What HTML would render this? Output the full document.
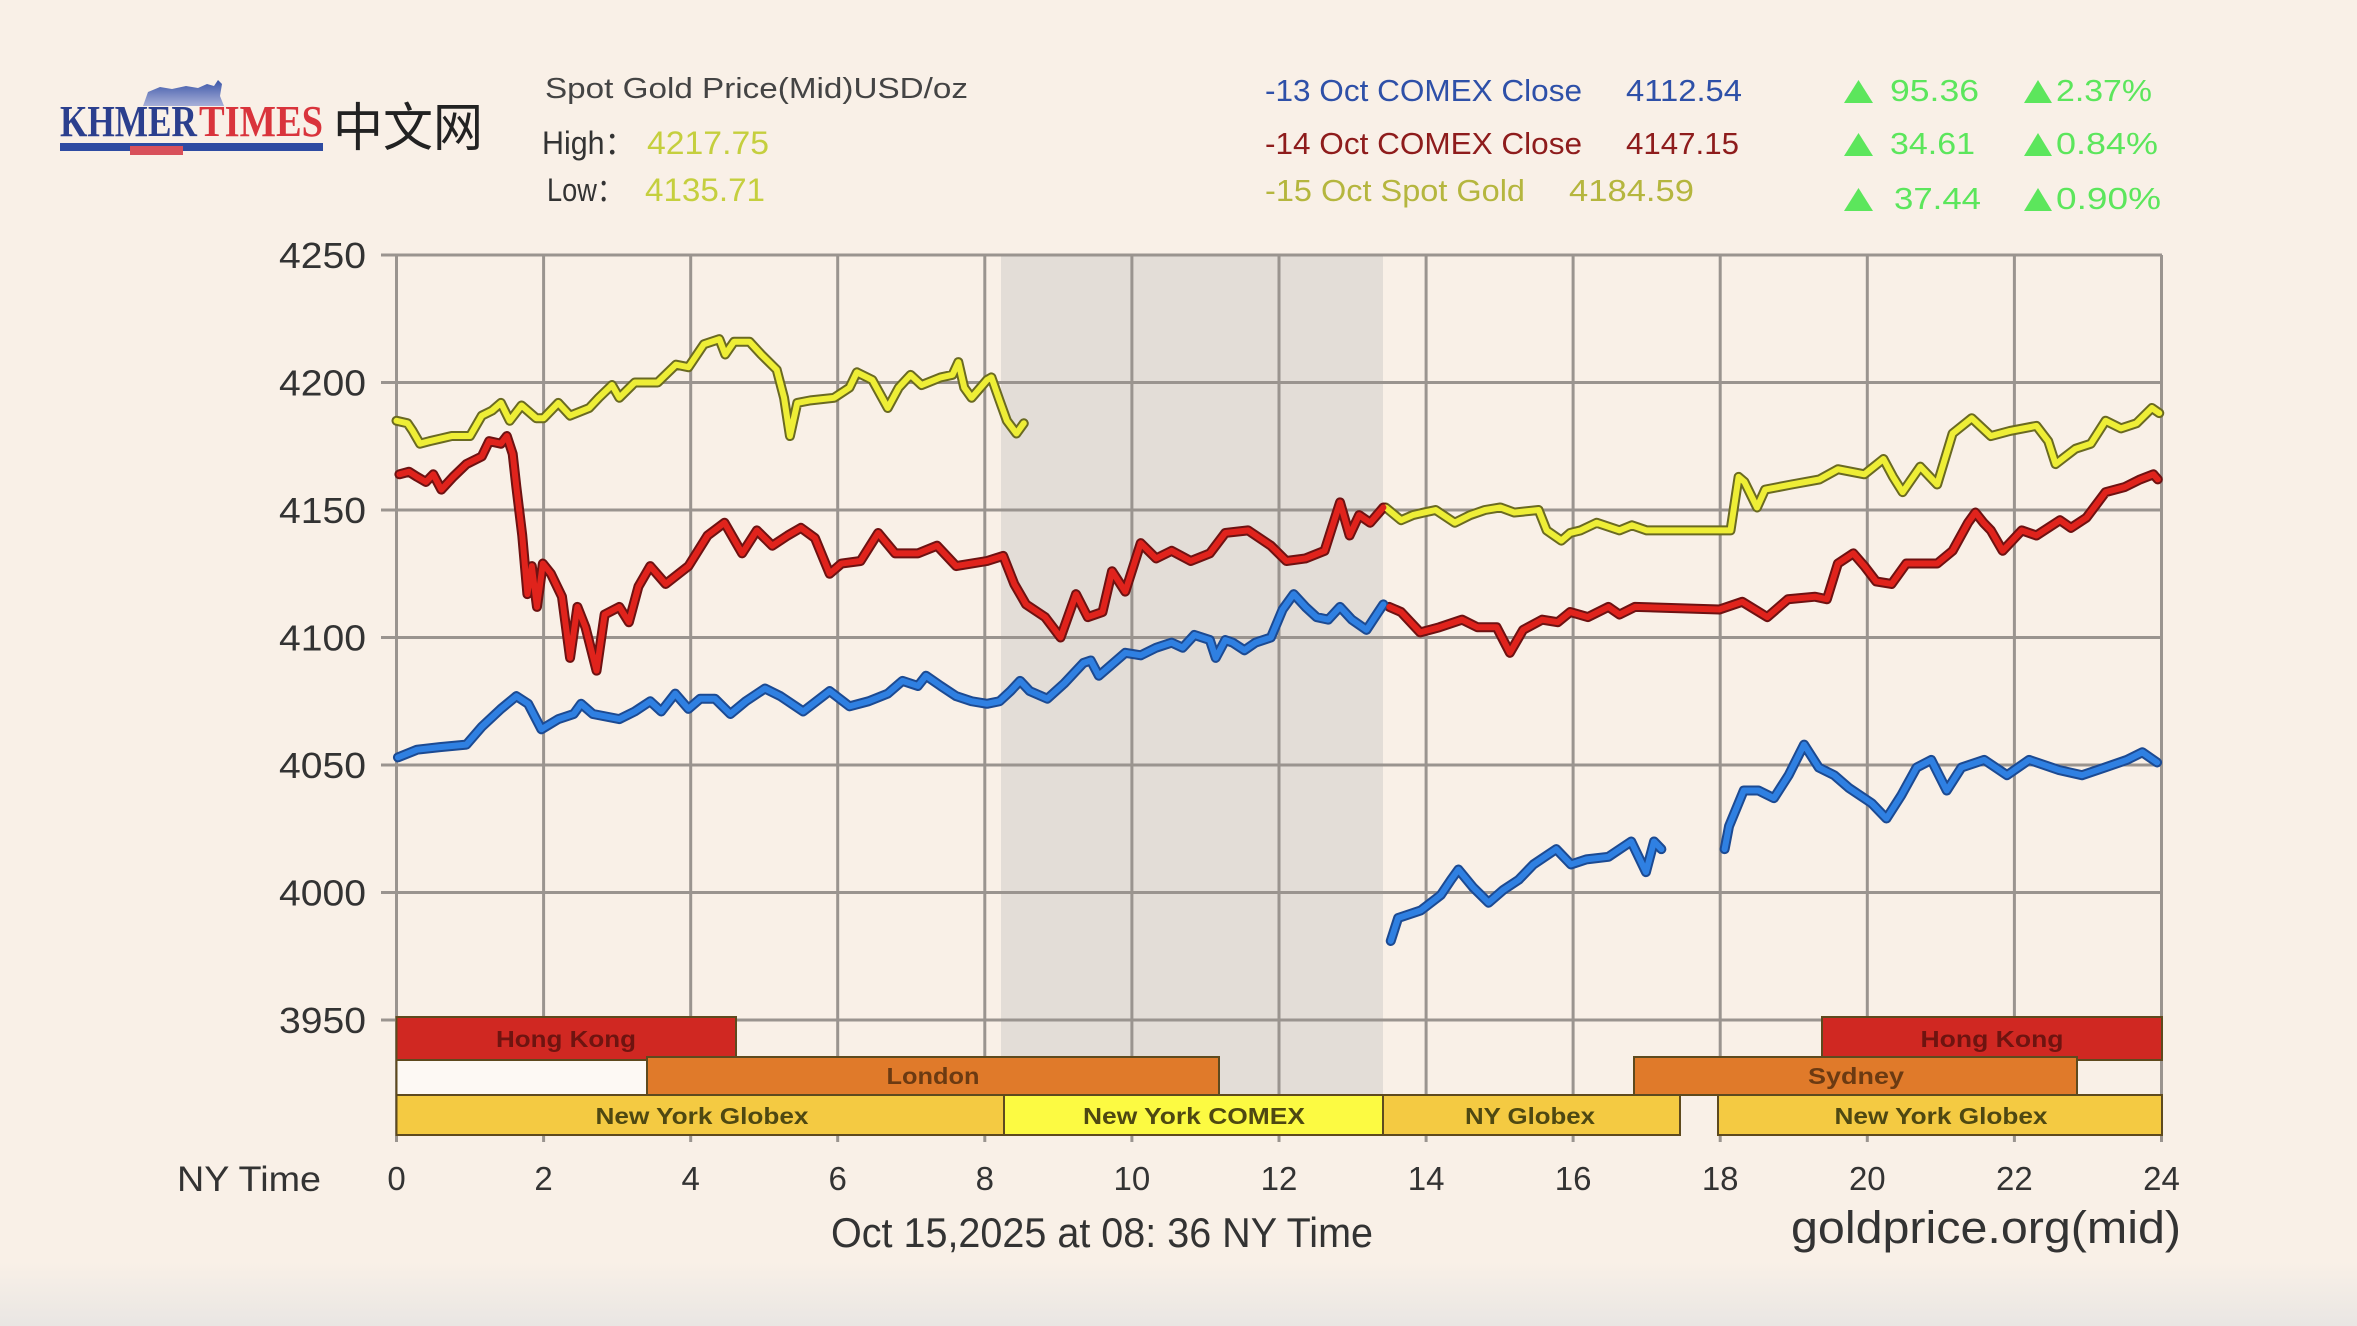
<!DOCTYPE html>
<html><head><meta charset="utf-8"><style>
html,body{margin:0;padding:0;background:#f9f0e7;}
svg{display:block;}
text{font-family:"Liberation Sans","Noto Sans CJK SC",sans-serif;}
</style></head><body>
<svg width="2357" height="1326" viewBox="0 0 2357 1326" xmlns="http://www.w3.org/2000/svg">
<defs>
<linearGradient id="bg" x1="0" y1="0" x2="0" y2="1">
<stop offset="0" stop-color="#f9f0e7"/><stop offset="1" stop-color="#e9e6e3"/>
</linearGradient>
<linearGradient id="mt" x1="0" y1="0" x2="0" y2="1">
<stop offset="0" stop-color="#3a55a8"/><stop offset="1" stop-color="#a8b0d8"/>
</linearGradient>
</defs>
<rect x="0" y="0" width="2357" height="1326" fill="#f9f0e7"/>
<rect x="0" y="1262" width="2357" height="64" fill="url(#bg)"/>

<!-- Logo -->
<path d="M143,106 L148,92 L160,87 L172,89 L186,86 L198,88 L207,84 L214,86 L218,80 L222,84 L220,96 L224,106 Z" fill="url(#mt)"/>
<text x="60" y="136" style="font-family:'Liberation Serif',serif;font-weight:bold;font-size:44px" fill="#2b3f8e" textLength="137" lengthAdjust="spacingAndGlyphs">KHMER</text>
<text x="199" y="136" style="font-family:'Liberation Serif',serif;font-weight:bold;font-size:44px" fill="#d9343c" textLength="124" lengthAdjust="spacingAndGlyphs">TIMES</text>
<rect x="60" y="143" width="263" height="8" fill="#2e4ba2"/>
<rect x="130" y="146" width="53" height="9" fill="#d8505a"/>
<text x="333" y="146" style="font-family:'Noto Sans CJK SC',sans-serif;font-size:52px" fill="#222" textLength="150" lengthAdjust="spacingAndGlyphs">中文网</text>

<!-- Header left -->
<text x="545" y="98" font-size="29" fill="#444" textLength="423" lengthAdjust="spacingAndGlyphs">Spot Gold Price(Mid)USD/oz</text>
<text x="542" y="154" font-size="32" fill="#333" textLength="93" lengthAdjust="spacingAndGlyphs">High：</text>
<text x="647" y="154" font-size="32" fill="#c5cf3e" textLength="122" lengthAdjust="spacingAndGlyphs">4217.75</text>
<text x="547" y="201" font-size="32" fill="#333" textLength="77" lengthAdjust="spacingAndGlyphs">Low：</text>
<text x="645" y="201" font-size="32" fill="#c5cf3e" textLength="120" lengthAdjust="spacingAndGlyphs">4135.71</text>

<!-- Header right -->
<text x="1265" y="101" font-size="31" fill="#2e50a8" textLength="317" lengthAdjust="spacingAndGlyphs">-13 Oct COMEX Close</text>
<text x="1626" y="101" font-size="31" fill="#2e50a8" textLength="116" lengthAdjust="spacingAndGlyphs">4112.54</text>
<text x="1265" y="154" font-size="31" fill="#8e1c1c" textLength="317" lengthAdjust="spacingAndGlyphs">-14 Oct COMEX Close</text>
<text x="1626" y="154" font-size="31" fill="#8e1c1c" textLength="113" lengthAdjust="spacingAndGlyphs">4147.15</text>
<text x="1265" y="201" font-size="31" fill="#b5b63e" textLength="260" lengthAdjust="spacingAndGlyphs">-15 Oct Spot Gold</text>
<text x="1569" y="201" font-size="31" fill="#b5b63e" textLength="125" lengthAdjust="spacingAndGlyphs">4184.59</text>

<g fill="#5ce65c">
<polygon points="1844,103 1873,103 1858.5,80"/>
<text x="1890" y="101" font-size="31" textLength="89" lengthAdjust="spacingAndGlyphs">95.36</text>
<polygon points="2024,103 2052,103 2038,80"/>
<text x="2056" y="101" font-size="31" textLength="96" lengthAdjust="spacingAndGlyphs">2.37%</text>
<polygon points="1844,156 1873,156 1858.5,133"/>
<text x="1890" y="154" font-size="31" textLength="85" lengthAdjust="spacingAndGlyphs">34.61</text>
<polygon points="2024,156 2052,156 2038,133"/>
<text x="2056" y="154" font-size="31" textLength="102" lengthAdjust="spacingAndGlyphs">0.84%</text>
<polygon points="1844,211 1873,211 1858.5,188"/>
<text x="1894" y="209" font-size="31" textLength="87" lengthAdjust="spacingAndGlyphs">37.44</text>
<polygon points="2024,211 2052,211 2038,188"/>
<text x="2056" y="209" font-size="31" textLength="105" lengthAdjust="spacingAndGlyphs">0.90%</text>
</g>

<!-- shaded region -->
<rect x="1001" y="255" width="382" height="840" fill="#e3ddd7"/>

<!-- gridlines -->
<g stroke="#9a948f" stroke-width="3" fill="none">
<line x1="381" y1="255" x2="2162" y2="255"/>
<line x1="381" y1="382.5" x2="2162" y2="382.5"/>
<line x1="381" y1="510" x2="2162" y2="510"/>
<line x1="381" y1="637.5" x2="2162" y2="637.5"/>
<line x1="381" y1="765" x2="2162" y2="765"/>
<line x1="381" y1="892.5" x2="2162" y2="892.5"/>
<line x1="381" y1="1020" x2="2162" y2="1020"/>
<line x1="396.5" y1="255" x2="396.5" y2="1142"/>
<line x1="543.6" y1="255" x2="543.6" y2="1142"/>
<line x1="690.7" y1="255" x2="690.7" y2="1142"/>
<line x1="837.7" y1="255" x2="837.7" y2="1142"/>
<line x1="984.8" y1="255" x2="984.8" y2="1142"/>
<line x1="1131.9" y1="255" x2="1131.9" y2="1142"/>
<line x1="1279" y1="255" x2="1279" y2="1142"/>
<line x1="1426.1" y1="255" x2="1426.1" y2="1142"/>
<line x1="1573.1" y1="255" x2="1573.1" y2="1142"/>
<line x1="1720.2" y1="255" x2="1720.2" y2="1142"/>
<line x1="1867.3" y1="255" x2="1867.3" y2="1142"/>
<line x1="2014.4" y1="255" x2="2014.4" y2="1142"/>
<line x1="2161.5" y1="255" x2="2161.5" y2="1142"/>
</g>

<!-- session bars -->
<g stroke="#5e4a1e" stroke-width="2">
<rect x="396.5" y="1060" width="250.5" height="35" fill="#fdf9f4"/>
<rect x="396.5" y="1017" width="339.5" height="43" fill="#d02822"/>
<rect x="1822" y="1017" width="340" height="43" fill="#d02822"/>
<rect x="647" y="1057" width="572" height="38" fill="#e07a2a"/>
<rect x="1634" y="1057" width="443" height="38" fill="#e07a2a"/>
<rect x="396.5" y="1095" width="607.5" height="40" fill="#f4ca42"/>
<rect x="1004" y="1095" width="379" height="40" fill="#fcfa42"/>
<rect x="1383" y="1095" width="297" height="40" fill="#f4ca42"/>
<rect x="1718" y="1095" width="444" height="40" fill="#f4ca42"/>
</g>
<g font-size="23" font-weight="bold" text-anchor="middle">
<text x="566" y="1047" fill="#6e1410" textLength="140" lengthAdjust="spacingAndGlyphs">Hong Kong</text>
<text x="1992" y="1047" fill="#6e1410" textLength="143" lengthAdjust="spacingAndGlyphs">Hong Kong</text>
<text x="933" y="1084" fill="#6b3a12" textLength="93" lengthAdjust="spacingAndGlyphs">London</text>
<text x="1856" y="1084" fill="#6b3a12" textLength="96" lengthAdjust="spacingAndGlyphs">Sydney</text>
<text x="702" y="1124" fill="#4e4812" textLength="213" lengthAdjust="spacingAndGlyphs">New York Globex</text>
<text x="1194" y="1124" fill="#4e4812" textLength="222" lengthAdjust="spacingAndGlyphs">New York COMEX</text>
<text x="1530" y="1124" fill="#4e4812" textLength="130" lengthAdjust="spacingAndGlyphs">NY Globex</text>
<text x="1941" y="1124" fill="#4e4812" textLength="213" lengthAdjust="spacingAndGlyphs">New York Globex</text>
</g>

<!-- Y labels -->
<g font-size="36" fill="#333" text-anchor="end">
<text x="366" y="268" textLength="87" lengthAdjust="spacingAndGlyphs">4250</text>
<text x="366" y="395.5" textLength="87" lengthAdjust="spacingAndGlyphs">4200</text>
<text x="366" y="523" textLength="87" lengthAdjust="spacingAndGlyphs">4150</text>
<text x="366" y="650.5" textLength="87" lengthAdjust="spacingAndGlyphs">4100</text>
<text x="366" y="778" textLength="87" lengthAdjust="spacingAndGlyphs">4050</text>
<text x="366" y="905.5" textLength="87" lengthAdjust="spacingAndGlyphs">4000</text>
<text x="366" y="1033" textLength="87" lengthAdjust="spacingAndGlyphs">3950</text>
</g>

<!-- X labels -->
<g font-size="33" fill="#333" text-anchor="middle">
<text x="396.5" y="1190">0</text>
<text x="543.6" y="1190">2</text>
<text x="690.7" y="1190">4</text>
<text x="837.7" y="1190">6</text>
<text x="984.8" y="1190">8</text>
<text x="1131.9" y="1190">10</text>
<text x="1279" y="1190">12</text>
<text x="1426.1" y="1190">14</text>
<text x="1573.1" y="1190">16</text>
<text x="1720.2" y="1190">18</text>
<text x="1867.3" y="1190">20</text>
<text x="2014.4" y="1190">22</text>
<text x="2161.5" y="1190">24</text>
</g>
<text x="177" y="1191" font-size="35" fill="#333" textLength="144" lengthAdjust="spacingAndGlyphs">NY Time</text>
<text x="831" y="1247" font-size="42" fill="#333" textLength="542" lengthAdjust="spacingAndGlyphs">Oct 15,2025 at 08: 36 NY Time</text>
<text x="1791" y="1243" font-size="45" fill="#333" textLength="390" lengthAdjust="spacingAndGlyphs">goldprice.org(mid)</text>

<!-- Series -->
<g transform="translate(396.5,255) scale(73.54,-2.55) translate(0,-4250)" fill="none" stroke-linejoin="round" stroke-linecap="round">
<g>
<polyline vector-effect="non-scaling-stroke" stroke="#6a6a22" stroke-width="10" points="0,4185 0.15,4184 0.22,4181 0.32,4176 0.45,4177 0.6,4178 0.75,4179 0.9,4179 1.0,4179 1.16,4187 1.3,4189 1.42,4192 1.54,4185 1.7,4191 1.9,4186 2.0,4186 2.2,4192 2.36,4187 2.62,4190 2.75,4194 2.93,4199 3.03,4194 3.24,4200 3.55,4200 3.8,4207 3.97,4206 4.18,4215 4.39,4217 4.47,4211 4.59,4216 4.8,4216 4.96,4211 5.17,4205 5.27,4194 5.35,4179 5.45,4192 5.63,4193 5.95,4194 6.16,4198 6.26,4204 6.47,4201 6.68,4190 6.83,4198 6.99,4203 7.14,4199 7.4,4202 7.56,4203 7.64,4208 7.72,4198 7.82,4194 8.03,4201 8.09,4202 8.2,4193 8.3,4185 8.43,4180 8.53,4184"/>
<polyline vector-effect="non-scaling-stroke" stroke="#6a6a22" stroke-width="10" points="13.45,4151 13.66,4146 13.82,4148 13.97,4149 14.13,4150 14.39,4145 14.6,4148 14.8,4150 15.01,4151 15.2,4149 15.53,4150 15.64,4142 15.84,4138 15.96,4141 16.1,4142 16.32,4145 16.63,4142 16.8,4144 17.0,4142 18.14,4142 18.25,4163 18.33,4161 18.5,4151 18.61,4158 18.97,4160 19.35,4162 19.6,4166 19.96,4164 20.22,4170 20.35,4163 20.48,4157 20.72,4167 20.95,4160 21.16,4180 21.42,4186 21.68,4179 21.94,4181 22.3,4183 22.46,4177 22.56,4168 22.83,4174 23.04,4176 23.24,4185 23.45,4182 23.66,4184 23.87,4190 23.97,4188"/>
<polyline vector-effect="non-scaling-stroke" stroke="#6e1212" stroke-width="10" points="0.04,4164 0.17,4165 0.28,4163 0.4,4161 0.5,4164 0.61,4158 0.77,4163 0.95,4168 1.16,4171 1.26,4177 1.42,4176 1.5,4179 1.58,4172 1.63,4159 1.71,4140 1.78,4117 1.84,4128 1.91,4112 1.99,4129 2.1,4125 2.25,4116 2.36,4092 2.46,4112 2.57,4104 2.72,4087 2.83,4109 3.03,4112 3.16,4106 3.29,4120 3.45,4128 3.66,4121 3.97,4128 4.23,4140 4.46,4145 4.7,4133 4.9,4142 5.11,4136 5.32,4140 5.5,4143 5.69,4139 5.89,4125 6.05,4129 6.31,4130 6.55,4141 6.78,4133 7.09,4133 7.35,4136 7.61,4128 8.03,4130 8.25,4132 8.4,4121 8.56,4113 8.82,4108 9.03,4100 9.24,4117 9.4,4108 9.6,4110 9.73,4126 9.91,4118 10.12,4137 10.33,4131 10.54,4134 10.8,4130 11.06,4133 11.27,4141 11.58,4142 11.89,4136 12.1,4130 12.36,4131 12.62,4134 12.83,4153 12.96,4140 13.09,4148 13.24,4145 13.42,4151"/>
<polyline vector-effect="non-scaling-stroke" stroke="#6e1212" stroke-width="10" points="13.5,4112 13.66,4110 13.92,4102 14.18,4104 14.49,4107 14.7,4104 14.96,4104 15.14,4094 15.32,4103 15.58,4107 15.79,4106 15.96,4110 16.2,4108 16.48,4112 16.63,4109 16.84,4112 17.99,4111 18.3,4114 18.64,4108 18.92,4115 19.29,4116 19.45,4115 19.6,4129 19.81,4133 19.96,4128 20.12,4122 20.33,4121 20.53,4129 20.95,4129 21.16,4134 21.37,4145 21.47,4149 21.58,4145 21.68,4142 21.84,4134 22.1,4142 22.3,4140 22.62,4146 22.77,4143 22.98,4147 23.24,4157 23.5,4159 23.71,4162 23.89,4164 23.95,4162"/>
<polyline vector-effect="non-scaling-stroke" stroke="#1c4a92" stroke-width="10" points="0.02,4053 0.28,4056 0.59,4057 0.95,4058 1.16,4065 1.42,4072 1.63,4077 1.79,4074 1.97,4064 2.2,4068 2.41,4070 2.51,4074 2.67,4070 3.03,4068 3.24,4071 3.45,4075 3.6,4071 3.79,4078 3.97,4072 4.13,4076 4.33,4076 4.54,4070 4.75,4075 5.01,4080 5.22,4077 5.53,4071 5.89,4079 6.16,4073 6.42,4075 6.68,4078 6.88,4083 7.09,4081 7.2,4085 7.4,4081 7.61,4077 7.82,4075 8.03,4074 8.2,4075 8.35,4079 8.48,4083 8.61,4079 8.85,4076 9.08,4082 9.34,4090 9.44,4091 9.55,4085 9.71,4089 9.91,4094 10.12,4093 10.33,4096 10.54,4098 10.69,4096 10.85,4101 11.06,4099 11.14,4092 11.27,4099 11.37,4098 11.53,4095 11.68,4098 11.89,4100 12.05,4111 12.2,4117 12.36,4112 12.51,4108 12.67,4107 12.83,4112 12.99,4107 13.19,4103 13.35,4110 13.42,4113"/>
<polyline vector-effect="non-scaling-stroke" stroke="#1c4a92" stroke-width="10" points="13.52,3981 13.62,3990 13.93,3993 14.2,3999 14.34,4005 14.44,4009 14.64,4002 14.85,3996 15.05,4001 15.26,4005 15.46,4011 15.77,4017 15.97,4011 16.18,4013 16.48,4014 16.79,4020 16.99,4008 17.1,4020 17.2,4017"/>
<polyline vector-effect="non-scaling-stroke" stroke="#1c4a92" stroke-width="10" points="18.06,4017 18.12,4026 18.32,4040 18.52,4040 18.73,4037 18.93,4046 19.14,4058 19.34,4049 19.55,4046 19.75,4041 20.06,4035 20.26,4029 20.46,4038 20.67,4049 20.87,4052 21.08,4040 21.28,4049 21.59,4052 21.9,4046 22.2,4052 22.61,4048 22.92,4046 23.23,4049 23.53,4052 23.74,4055 23.94,4051"/>
</g>
<g>
<polyline vector-effect="non-scaling-stroke" stroke="#eeee36" stroke-width="6" points="0,4185 0.15,4184 0.22,4181 0.32,4176 0.45,4177 0.6,4178 0.75,4179 0.9,4179 1.0,4179 1.16,4187 1.3,4189 1.42,4192 1.54,4185 1.7,4191 1.9,4186 2.0,4186 2.2,4192 2.36,4187 2.62,4190 2.75,4194 2.93,4199 3.03,4194 3.24,4200 3.55,4200 3.8,4207 3.97,4206 4.18,4215 4.39,4217 4.47,4211 4.59,4216 4.8,4216 4.96,4211 5.17,4205 5.27,4194 5.35,4179 5.45,4192 5.63,4193 5.95,4194 6.16,4198 6.26,4204 6.47,4201 6.68,4190 6.83,4198 6.99,4203 7.14,4199 7.4,4202 7.56,4203 7.64,4208 7.72,4198 7.82,4194 8.03,4201 8.09,4202 8.2,4193 8.3,4185 8.43,4180 8.53,4184"/>
<polyline vector-effect="non-scaling-stroke" stroke="#eeee36" stroke-width="6" points="13.45,4151 13.66,4146 13.82,4148 13.97,4149 14.13,4150 14.39,4145 14.6,4148 14.8,4150 15.01,4151 15.2,4149 15.53,4150 15.64,4142 15.84,4138 15.96,4141 16.1,4142 16.32,4145 16.63,4142 16.8,4144 17.0,4142 18.14,4142 18.25,4163 18.33,4161 18.5,4151 18.61,4158 18.97,4160 19.35,4162 19.6,4166 19.96,4164 20.22,4170 20.35,4163 20.48,4157 20.72,4167 20.95,4160 21.16,4180 21.42,4186 21.68,4179 21.94,4181 22.3,4183 22.46,4177 22.56,4168 22.83,4174 23.04,4176 23.24,4185 23.45,4182 23.66,4184 23.87,4190 23.97,4188"/>
<polyline vector-effect="non-scaling-stroke" stroke="#e0231c" stroke-width="6" points="0.04,4164 0.17,4165 0.28,4163 0.4,4161 0.5,4164 0.61,4158 0.77,4163 0.95,4168 1.16,4171 1.26,4177 1.42,4176 1.5,4179 1.58,4172 1.63,4159 1.71,4140 1.78,4117 1.84,4128 1.91,4112 1.99,4129 2.1,4125 2.25,4116 2.36,4092 2.46,4112 2.57,4104 2.72,4087 2.83,4109 3.03,4112 3.16,4106 3.29,4120 3.45,4128 3.66,4121 3.97,4128 4.23,4140 4.46,4145 4.7,4133 4.9,4142 5.11,4136 5.32,4140 5.5,4143 5.69,4139 5.89,4125 6.05,4129 6.31,4130 6.55,4141 6.78,4133 7.09,4133 7.35,4136 7.61,4128 8.03,4130 8.25,4132 8.4,4121 8.56,4113 8.82,4108 9.03,4100 9.24,4117 9.4,4108 9.6,4110 9.73,4126 9.91,4118 10.12,4137 10.33,4131 10.54,4134 10.8,4130 11.06,4133 11.27,4141 11.58,4142 11.89,4136 12.1,4130 12.36,4131 12.62,4134 12.83,4153 12.96,4140 13.09,4148 13.24,4145 13.42,4151"/>
<polyline vector-effect="non-scaling-stroke" stroke="#e0231c" stroke-width="6" points="13.5,4112 13.66,4110 13.92,4102 14.18,4104 14.49,4107 14.7,4104 14.96,4104 15.14,4094 15.32,4103 15.58,4107 15.79,4106 15.96,4110 16.2,4108 16.48,4112 16.63,4109 16.84,4112 17.99,4111 18.3,4114 18.64,4108 18.92,4115 19.29,4116 19.45,4115 19.6,4129 19.81,4133 19.96,4128 20.12,4122 20.33,4121 20.53,4129 20.95,4129 21.16,4134 21.37,4145 21.47,4149 21.58,4145 21.68,4142 21.84,4134 22.1,4142 22.3,4140 22.62,4146 22.77,4143 22.98,4147 23.24,4157 23.5,4159 23.71,4162 23.89,4164 23.95,4162"/>
<polyline vector-effect="non-scaling-stroke" stroke="#2f80e2" stroke-width="6" points="0.02,4053 0.28,4056 0.59,4057 0.95,4058 1.16,4065 1.42,4072 1.63,4077 1.79,4074 1.97,4064 2.2,4068 2.41,4070 2.51,4074 2.67,4070 3.03,4068 3.24,4071 3.45,4075 3.6,4071 3.79,4078 3.97,4072 4.13,4076 4.33,4076 4.54,4070 4.75,4075 5.01,4080 5.22,4077 5.53,4071 5.89,4079 6.16,4073 6.42,4075 6.68,4078 6.88,4083 7.09,4081 7.2,4085 7.4,4081 7.61,4077 7.82,4075 8.03,4074 8.2,4075 8.35,4079 8.48,4083 8.61,4079 8.85,4076 9.08,4082 9.34,4090 9.44,4091 9.55,4085 9.71,4089 9.91,4094 10.12,4093 10.33,4096 10.54,4098 10.69,4096 10.85,4101 11.06,4099 11.14,4092 11.27,4099 11.37,4098 11.53,4095 11.68,4098 11.89,4100 12.05,4111 12.2,4117 12.36,4112 12.51,4108 12.67,4107 12.83,4112 12.99,4107 13.19,4103 13.35,4110 13.42,4113"/>
<polyline vector-effect="non-scaling-stroke" stroke="#2f80e2" stroke-width="6" points="13.52,3981 13.62,3990 13.93,3993 14.2,3999 14.34,4005 14.44,4009 14.64,4002 14.85,3996 15.05,4001 15.26,4005 15.46,4011 15.77,4017 15.97,4011 16.18,4013 16.48,4014 16.79,4020 16.99,4008 17.1,4020 17.2,4017"/>
<polyline vector-effect="non-scaling-stroke" stroke="#2f80e2" stroke-width="6" points="18.06,4017 18.12,4026 18.32,4040 18.52,4040 18.73,4037 18.93,4046 19.14,4058 19.34,4049 19.55,4046 19.75,4041 20.06,4035 20.26,4029 20.46,4038 20.67,4049 20.87,4052 21.08,4040 21.28,4049 21.59,4052 21.9,4046 22.2,4052 22.61,4048 22.92,4046 23.23,4049 23.53,4052 23.74,4055 23.94,4051"/>
</g>
</g>
</svg>
</body></html>
